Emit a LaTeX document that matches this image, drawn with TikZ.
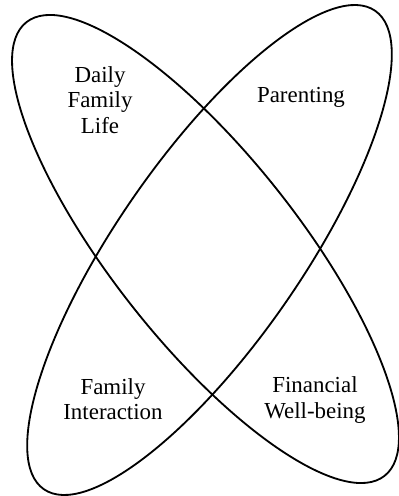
\documentclass[tikz,border=0pt]{standalone}
\usepackage{fontspec}
\setmainfont{Liberation Serif}
\usetikzlibrary{positioning}

\begin{document}
\begin{tikzpicture}[x=0.025cm, y=0.025cm,
		every node/.style={align=center, font=\fontsize{16.3}{18}\selectfont}]
				\useasboundingbox (0,0) rectangle (399,496);
				\draw [line width=1.3pt, rotate around={-51.7:(205.5,247)}] (205.5,247) ellipse [x radius=289, y radius=93];
				\draw [line width=1.3pt, rotate around={55.3:(209.5,246)}] (209.5,246) ellipse [x radius=291, y radius=92.5];
				\node (daily) at (100,396) {Daily\\Family\\Life};
				\node (parent) at (301,399) {Parenting};
				\node (interact) at (113,97) {Family\\Interaction};
				\node (finance) at (315,96) {Financial\\Well-being};
			\end{tikzpicture}
\end{document}
